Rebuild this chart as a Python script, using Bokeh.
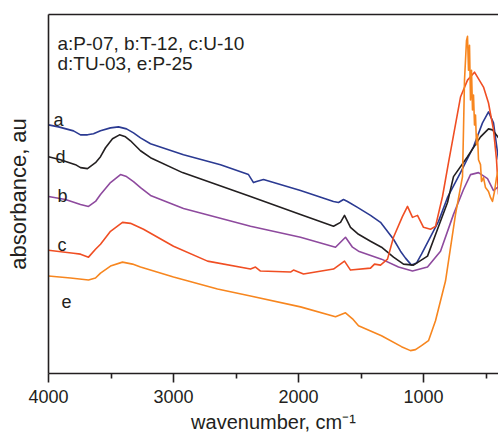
from bokeh.plotting import figure
from bokeh.models import Range1d, FixedTicker, LinearAxis, Label
from bokeh.embed import file_html
from bokeh.resources import INLINE

# ---- data (wavenumber in cm^-1, absorbance in arbitrary units) ----
wn_a = [4000, 3920, 3800, 3744, 3688, 3640, 3584, 3504, 3440, 3376, 3320, 3264, 3184, 2920, 2624,
        2400, 2360, 2336, 2280, 1984, 1720, 1680, 1640, 1608, 1528, 1424, 1344, 1240, 1184, 1144,
        1096, 1056, 1016, 880, 808, 704, 600, 528, 480, 440, 400]
abs_a = [2.50, 2.48, 2.44, 2.40, 2.40, 2.41, 2.44, 2.47, 2.48, 2.46, 2.42, 2.37, 2.31, 2.20, 2.10,
         2.00, 1.92, 1.93, 1.95, 1.84, 1.73, 1.72, 1.75, 1.73, 1.67, 1.59, 1.52, 1.35, 1.23, 1.16,
         1.09, 1.11, 1.20, 1.53, 1.77, 2.02, 2.28, 2.52, 2.63, 2.52, 2.15]

wn_d = [4000, 3904, 3784, 3744, 3688, 3624, 3584, 3544, 3488, 3432, 3384, 3344, 3264, 3184, 2928,
        2384, 1984, 1720, 1664, 1632, 1584, 1520, 1424, 1336, 1240, 1160, 1080, 968, 888, 808,
        760, 648, 544, 480, 448, 400]
abs_d = [2.18, 2.15, 2.10, 2.07, 2.06, 2.12, 2.18, 2.27, 2.36, 2.40, 2.38, 2.34, 2.24, 2.17, 2.02,
         1.78, 1.60, 1.48, 1.52, 1.59, 1.47, 1.40, 1.33, 1.27, 1.17, 1.10, 1.09, 1.18, 1.45, 1.72,
         1.98, 2.18, 2.38, 2.46, 2.45, 2.37]

wn_b = [4000, 3864, 3744, 3680, 3624, 3584, 3504, 3424, 3376, 3320, 3264, 3184, 2920, 2384, 1984,
        1704, 1624, 1568, 1520, 1336, 1200, 1088, 968, 864, 760, 680, 624, 560, 488, 440, 400]
abs_b = [1.78, 1.75, 1.70, 1.68, 1.73, 1.80, 1.92, 2.00, 1.98, 1.93, 1.87, 1.79, 1.66, 1.48, 1.37,
         1.27, 1.37, 1.27, 1.23, 1.15, 1.07, 1.03, 1.07, 1.23, 1.60, 1.85, 2.00, 2.02, 1.96, 1.84, 1.88]

wn_c = [4000, 3800, 3744, 3680, 3624, 3584, 3504, 3408, 3344, 3240, 3000, 2728, 2384, 2344, 2304,
        2064, 2040, 1960, 1720, 1632, 1584, 1424, 1392, 1344, 1288, 1240, 1168, 1128, 1088, 1048,
        1000, 944, 904, 848, 800, 704, 648, 592, 520, 480, 440, 416, 400]
abs_c = [1.24, 1.21, 1.20, 1.17, 1.25, 1.30, 1.43, 1.52, 1.51, 1.45, 1.28, 1.13, 1.05, 1.07, 1.03,
         1.02, 1.04, 1.00, 1.05, 1.13, 1.04, 1.06, 1.10, 1.09, 1.15, 1.37, 1.58, 1.68, 1.57, 1.59,
         1.47, 1.45, 1.48, 1.78, 2.12, 2.78, 2.95, 3.03, 2.88, 2.72, 2.45, 2.15, 1.80]

wn_e = [4000, 3824, 3680, 3624, 3584, 3504, 3408, 3328, 3264, 3000, 2648, 2384, 1984, 1704, 1624,
        1568, 1520, 1336, 1176, 1104, 1064, 1016, 960, 904, 824, 776, 744, 688, 680, 672, 664, 656,
        648, 640, 632, 624, 616, 608, 600, 592, 584, 576, 568, 560, 544, 536, 520, 504, 480, 464,
        448, 432, 416, 400]
abs_e = [0.98, 0.96, 0.94, 0.96, 1.01, 1.08, 1.12, 1.10, 1.07, 0.97, 0.85, 0.78, 0.67, 0.57, 0.61,
         0.55, 0.48, 0.38, 0.27, 0.23, 0.24, 0.28, 0.33, 0.53, 0.93, 1.33, 1.60, 1.98, 2.45, 2.95, 3.15, 3.35,
         3.39, 3.05, 3.30, 2.75, 3.05, 2.65, 2.80, 2.50, 2.60, 2.30, 2.40, 2.15, 2.10, 1.93, 1.97, 1.87, 1.83, 1.77,
         1.73, 1.83, 1.97, 2.05]

series_keys = ["a", "d", "b", "c", "e"]
legend_lines = ["a:P-07, b:T-12, c:U-10", "d:TU-03, e:P-25"]
major_ticks = [4000, 3000, 2000, 1000]
minor_ticks = [3500, 2500, 1500, 500]

colors = {"a": "#2b3a92", "d": "#231f20", "b": "#8e4a9e", "c": "#f04e23", "e": "#f7861f"}
data = {"a": (wn_a, abs_a), "d": (wn_d, abs_d), "b": (wn_b, abs_b), "c": (wn_c, abs_c), "e": (wn_e, abs_e)}

FONT = "Liberation Sans"
INK = "#231f20"

p = figure(width=498, height=435, output_backend="svg", toolbar_location=None,
           x_range=Range1d(4000, 400), y_range=Range1d(0, 3.61),
           min_border_left=48, min_border_right=0, min_border_top=14, min_border_bottom=60,
           x_axis_label="wavenumber, cm\u207b\u00b9", y_axis_label="absorbance, au")
p.outline_line_color = None
p.grid.visible = False
p.background_fill_color = "white"
p.border_fill_color = "white"

for k in series_keys:
    x, y = data[k]
    p.line(x, y, line_color=colors[k], line_width=1.6, line_join="round")

xa = p.xaxis[0]
xa.ticker = FixedTicker(ticks=major_ticks, minor_ticks=minor_ticks)
xa.axis_line_width = 1.6
xa.axis_line_color = INK
xa.major_tick_line_color = INK
xa.major_tick_line_width = 1.6
xa.minor_tick_line_color = INK
xa.minor_tick_line_width = 1.6
xa.major_tick_in = 0
xa.major_tick_out = 9
xa.minor_tick_in = 0
xa.minor_tick_out = 5
xa.major_label_text_font = FONT
xa.major_label_text_font_size = "18px"
xa.major_label_text_color = INK
xa.major_label_standoff = 7
xa.axis_label_text_font = FONT
xa.axis_label_text_font_size = "20px"
xa.axis_label_text_font_style = "normal"
xa.axis_label_text_color = INK
xa.axis_label_standoff = 5

ya = p.yaxis[0]
ya.ticker = FixedTicker(ticks=[])
ya.axis_line_width = 1.6
ya.axis_line_color = INK
ya.major_tick_out = 0
ya.major_tick_in = 0
ya.minor_tick_out = 0
ya.minor_tick_in = 0
ya.major_label_standoff = 0
ya.axis_label_text_font = FONT
ya.axis_label_text_font_size = "22px"
ya.axis_label_text_font_style = "normal"
ya.axis_label_text_color = INK
ya.axis_label_standoff = 18

top = LinearAxis(ticker=FixedTicker(ticks=[]), axis_line_width=1.6, axis_line_color=INK,
                 major_tick_out=0, major_tick_in=0, minor_tick_out=0, minor_tick_in=0,
                 major_label_standoff=0)
p.add_layout(top, "above")

# legend text
for i, t in enumerate(legend_lines):
    p.add_layout(Label(x=3928, y=3.32 - 0.20 * i, text=t, text_font=FONT, text_font_size="19px",
                       text_color=INK, text_baseline="alphabetic", text_align="left"))

# curve letters
label_pos = {"a": (3960, 2.55), "d": (3944, 2.18), "b": (3928, 1.78), "c": (3928, 1.29), "e": (3896, 0.72)}
for k in series_keys:
    lx, ly = label_pos[k]
    p.add_layout(Label(x=lx, y=ly, text=k, text_font=FONT, text_font_size="18px",
                       text_color=INK, text_baseline="alphabetic", text_align="left"))

open("out.html", "w").write(file_html(p, INLINE))
